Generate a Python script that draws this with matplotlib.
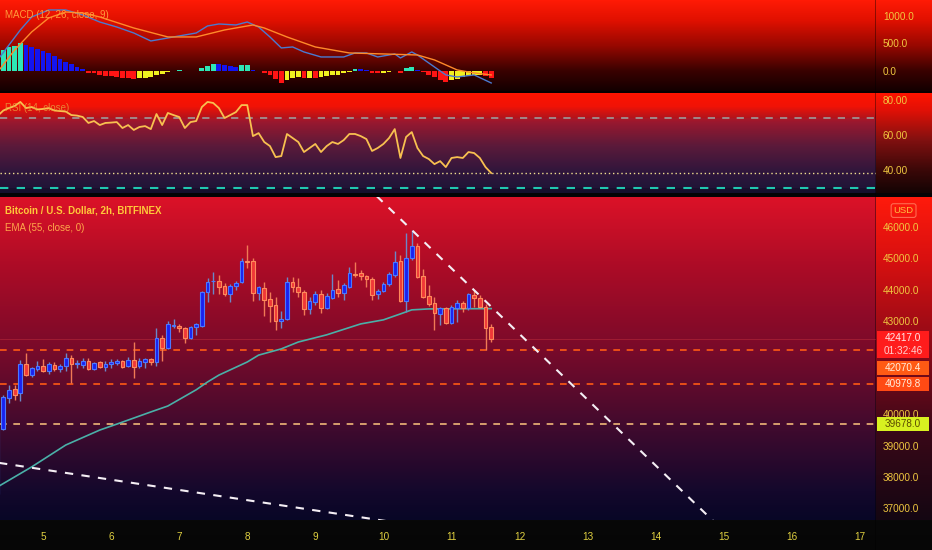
import numpy as np
import matplotlib
matplotlib.use('Agg')
import matplotlib.pyplot as plt
from matplotlib.colors import to_rgb
from matplotlib.patches import Rectangle

plt.rcParams['font.family'] = ['Liberation Sans', 'DejaVu Sans']

# Bitcoin / U.S. Dollar, 2h bars, first bar = day 4 08:00
bar_start = 4 + 8 / 24
bar_step = 2 / 24

opens = [37450, 39540, 40530, 40815, 40690, 41620, 41260, 41460, 41550, 41390,
         41580, 41460, 41550, 41810, 41620, 41580, 41710, 41460, 41680, 41520,
         41620, 41650, 41710, 41550, 41740, 41550, 41680, 41780, 41680, 42450,
         42130, 42830, 42830, 42770, 42450, 42800, 42830, 43920, 44260, 44270,
         44110, 43860, 44110, 44240, 44920, 44910, 43890, 44050, 43700, 43500,
         43000, 43050, 44240, 44080, 43920, 43380, 43600, 43860, 43410, 43730,
         44020, 43890, 44080, 44500, 44530, 44430, 44340, 43860, 43950, 44180,
         44470, 44910, 43630, 45010, 45390, 44430, 43790, 43570, 43220, 43410,
         42930, 43410, 43570, 43410, 43830, 43730, 43440, 42800]
highs = [39650, 40620, 40940, 40940, 41740, 41970, 41520, 41710, 41780, 41680,
         41680, 41620, 41970, 41900, 41740, 41810, 41810, 41680, 41710, 41710,
         41780, 41780, 41740, 41840, 42320, 41810, 41810, 41810, 42770, 42550,
         42990, 43060, 42900, 42800, 42830, 42930, 43950, 44370, 44560, 44470,
         44210, 44180, 44270, 45010, 45430, 45010, 44110, 44240, 43920, 43760,
         43310, 44400, 44400, 44370, 43990, 43760, 43950, 43990, 43890, 44500,
         44300, 44210, 44720, 44880, 44630, 44470, 44400, 44020, 44240, 44560,
         45230, 45110, 45810, 45910, 45490, 44660, 44150, 43760, 43440, 43440,
         43500, 43670, 43630, 43890, 43990, 43830, 43540, 42900]
lows = [37350, 39500, 40370, 40460, 40430, 41230, 41200, 41390, 41360, 41300,
        41390, 41360, 41390, 41000, 41490, 41490, 41420, 41420, 41490, 41390,
        41490, 41580, 41490, 41520, 41170, 41490, 41490, 41580, 41550, 41710,
        42100, 42770, 42640, 42290, 42420, 42550, 42800, 43600, 43860, 43860,
        43790, 43600, 43990, 44210, 44690, 43630, 43670, 43150, 42960, 42700,
        42770, 43020, 43920, 43760, 43180, 43220, 43500, 43250, 43380, 43700,
        43760, 43670, 44050, 44400, 44310, 44080, 43670, 43700, 43920, 44110,
        44400, 43600, 43280, 44950, 44370, 43730, 43470, 42700, 42860, 42900,
        42900, 42960, 43280, 43350, 43440, 43410, 42070, 42320]
closes = [39570, 40560, 40780, 40620, 41620, 41260, 41490, 41550, 41390, 41620,
          41460, 41550, 41810, 41620, 41630, 41710, 41460, 41650, 41520, 41620,
          41680, 41710, 41520, 41740, 41520, 41710, 41780, 41680, 42450, 42130,
          42900, 42870, 42770, 42450, 42800, 42900, 43920, 44240, 44280, 44080,
          43860, 44110, 44210, 44910, 44880, 43890, 44080, 43670, 43470, 42990,
          43050, 44240, 44080, 43920, 43380, 43630, 43860, 43410, 43790, 43990,
          43890, 44150, 44530, 44480, 44430, 44340, 43830, 43950, 44180, 44500,
          44880, 43630, 45010, 45390, 44400, 43760, 43540, 43250, 43410, 42930,
          43440, 43570, 43410, 43860, 43730, 43440, 42770, 42417]

# EMA(55) read at a few bars
ema_idx = [0, 6, 12, 18, 21, 27, 30, 35, 37, 39, 44, 46, 50, 53, 58, 64, 68, 71, 73, 76, 87]
ema_val = [37680, 38320, 39020, 39500, 39690, 40080, 40270, 40790, 41040, 41260,
           41680, 41900, 42100, 42320, 42550, 42900, 43030, 43220, 43350, 43380, 43390]

# MACD (12, 26, 9)
macd_idx = [0, 2, 4, 6, 9, 12, 15, 18, 21, 24, 27, 29, 31, 35, 37, 39, 42, 44, 46,
            48, 50, 52, 54, 57, 61, 63, 65, 67, 70, 71, 73, 74, 77, 79, 81, 84, 87]
macd_val = [195, 467, 740, 976, 1104, 1104, 1013, 885, 794, 685, 540, 576, 613, 685,
            813, 849, 831, 885, 794, 613, 413, 431, 340, 249, 249, 322, 322, 249,
            304, 231, 340, 285, 67, -78, -115, -78, -224]
sig_idx = [0, 3, 6, 9, 12, 15, 18, 24, 30, 35, 40, 45, 47, 51, 56, 62, 68, 74, 77, 81, 84, 87]
sig_val = [-24, 376, 704, 958, 1067, 1049, 976, 776, 613, 613, 740, 831, 776, 613,
           431, 322, 304, 285, 195, 13, -42, -78]
hist = [360, 376, 436, 448, 497, 460, 436, 400, 358, 315,
        267, 218, 164, 115, 61, 24, -36, -48, -79, -91,
        -103, -115, -127, -133, -145, -140, -133, -115, -85, -60,
        -20, -6, 5, -8, -10, -6, 55, 85, 127, 120,
        105, 80, 60, 100, 100, 20, -10, -40, -85, -150,
        -220, -170, -140, -120, -140, -135, -140, -120, -100, -80,
        -70, -50, -30, 30, 25, 10, -40, -40, -35, -20,
        -15, -40, 40, 70, 20, -30, -70, -110, -165, -200,
        -175, -150, -110, -100, -80, -75, -100, -130]

# RSI (14)
rsi = [70.9, 74.0, 75.4, 76.6, 78.9, 75.4, 76.0, 74.6, 74.9, 75.4,
       74.0, 73.7, 73.4, 71.4, 71.1, 70.3, 66.9, 68.0, 65.7, 66.9,
       67.1, 67.4, 64.0, 65.7, 62.9, 64.6, 65.1, 63.4, 72.0, 65.7,
       72.6, 71.4, 70.3, 64.0, 67.4, 68.0, 76.0, 78.9, 78.3, 75.4,
       69.7, 71.4, 73.1, 77.1, 77.1, 59.4, 61.1, 56.0, 53.7, 47.4,
       48.0, 60.6, 58.3, 56.0, 50.3, 52.6, 54.9, 50.3, 53.7, 56.0,
       54.9, 57.1, 60.6, 60.6, 59.4, 57.7, 50.9, 52.6, 54.9, 58.3,
       63.4, 46.9, 58.9, 61.7, 52.6, 48.0, 46.3, 43.4, 45.1, 41.7,
       46.9, 47.4, 46.9, 50.3, 49.7, 46.9, 41.7, 38.3]

# levels and drawn trend lines
levels = [42070.4, 40979.8, 39678.0]
last_price = 42417.0
countdown = '01:32:46'
trend1_t = [9.9, 14.9]
trend1_p = [46996, 36471]
trend2_t = [4.3, 10.3]
trend2_p = [38467, 36500]
day_ticks = list(range(5, 18))
price_ticks = list(range(37000, 46001, 1000))
hidden_ticks = [41000, 42000]   # covered by the price labels on the scale

W, H = 932, 550
fig = plt.figure(figsize=(W / 100, H / 100), dpi=100)
fig.patch.set_facecolor('#060606')


def gradient(stops, n):
    rows = np.arange(n)
    pos = [s[0] for s in stops]
    cols = np.array([to_rgb(s[1]) for s in stops])
    return np.stack([np.interp(rows, pos, cols[:, k]) for k in range(3)], axis=1)


chart_stops = [(0, '#ff1a05'), (20, '#e01000'), (45, '#980800'), (70, '#3a0200'), (90, '#140000'),
               (91, '#0a0000'), (92, '#0a0000'),
               (93, '#ff1400'), (106, '#f01206'), (122, '#9a1424'), (145, '#5a1630'),
               (170, '#2c1232'), (192, '#150f2c'),
               (193, '#050305'), (196, '#050305'),
               (197, '#dc1228'), (260, '#b00c26'), (350, '#780a2a'), (430, '#3e0a2e'),
               (490, '#14082c'), (519, '#080626'),
               (520, '#080808'), (549, '#060606')]
axis_stops = [(0, '#ff1a05'), (20, '#e01000'), (45, '#980800'), (70, '#3a0200'), (90, '#140000'),
              (91, '#0a0000'), (92, '#0a0000'),
              (93, '#ff1400'), (110, '#e01006'), (140, '#801010'), (170, '#3a0808'), (192, '#140404'),
              (193, '#050305'), (196, '#050305'),
              (197, '#ff1a0c'), (260, '#d81010'), (350, '#8a0a18'), (430, '#3a0818'),
              (519, '#140612'),
              (520, '#080808'), (549, '#060606')]

img = np.zeros((H, W, 3))
img[:, :876] = gradient(chart_stops, H)[:, None, :]
img[:, 876:] = gradient(axis_stops, H)[:, None, :]
img[:, 875] *= 0.6

ax_bg = fig.add_axes([0, 0, 1, 1])
ax_bg.imshow(img, extent=(0, W, H, 0), aspect='auto', interpolation='bilinear')
ax_bg.set_xlim(0, W)
ax_bg.set_ylim(H, 0)
ax_bg.axis('off')

pr = 876 / W
ax_macd = fig.add_axes([0, 1 - 91 / H, pr, 91 / H])
ax_rsi = fig.add_axes([0, 1 - 193 / H, pr, 100 / H])
ax_main = fig.add_axes([0, 30 / H, pr, 323 / H])

tick_col = '#f0c840'
for ax in (ax_macd, ax_rsi, ax_main):
    ax.set_facecolor('none')
    for s in ax.spines.values():
        s.set_visible(False)
    ax.set_xlim(4.368, 17.236)
    ax.yaxis.tick_right()
    ax.tick_params(axis='y', length=0, pad=5, labelsize=7.2, labelcolor=tick_col)
    ax.tick_params(axis='x', length=0)

t = bar_start + np.arange(len(closes)) * bar_step
step = bar_step

# ---- MACD pane
hcols = []
for i, h in enumerate(hist):
    prev = hist[i - 1] if i > 0 else h
    if h >= 0:
        hcols.append('#2ee6b6' if h >= prev else '#1414f0')
    else:
        hcols.append('#f0f020' if h > prev else '#ff1414')
ax_macd.bar(t, hist, width=step * 0.85, color=hcols, zorder=2)
ax_macd.plot(t[macd_idx], macd_val, color='#4a7ad0', lw=1, zorder=3)
ax_macd.plot(t[sig_idx], sig_val, color='#ff8a2a', lw=1, zorder=3)
ax_macd.set_ylim(-370, 1285)
ax_macd.set_yticks([0, 500, 1000])
ax_macd.set_yticklabels([f'{v:.1f}' for v in [0, 500, 1000]])
ax_macd.set_xticks([])
ax_macd.text(0.006, 0.835, 'MACD (12, 26, close, 9)', transform=ax_macd.transAxes,
             color='#ff9a3a', fontsize=7, va='center')

# ---- RSI pane
ax_rsi.axhspan(30, 70, color='#7e57c2', alpha=0.07, lw=0)
ax_rsi.axhline(70, color='#a09090', lw=1.3, ls=(0, (4, 4)))
ax_rsi.axhline(30, color='#20c8b0', lw=1.5, ls=(0, (4, 4)))
ax_rsi.axhline(rsi[-1], color='#f0e090', lw=1, ls=(0, (1, 2)))
ax_rsi.plot(t, rsi, color='#f8c050', lw=1.3, zorder=3)
ax_rsi.set_ylim(26.9, 84)
ax_rsi.set_yticks([40, 60, 80])
ax_rsi.set_yticklabels([f'{v:.2f}' for v in [40, 60, 80]])
ax_rsi.set_xticks([])
ax_rsi.text(0.006, 0.85, 'RSI (14, close)', transform=ax_rsi.transAxes,
            color='#e8a040', alpha=0.8, fontsize=7, va='center')

# ---- price pane
o = np.array(opens)
c = np.array(closes)
up = c >= o
body_col = np.where(up, '#1a22f0', '#f03838')
edge_col = np.where(up, '#4a78ff', '#ff8a5a')
wick_col = np.where(up, '#6a88c8', '#f07a55')
bottoms = np.minimum(o, c)
heights = np.maximum(np.abs(c - o), 25)

lvl_cols = ['#ff5a14', '#ff5a14', '#f0b878']
for lv, lc in zip(levels, lvl_cols):
    ax_main.axhline(lv, color=lc, lw=1.2, ls=(0, (4, 4)), zorder=1)
ax_main.axhline(last_price, color='#ff5050', lw=0.6, alpha=0.3, zorder=1)

ax_main.plot(t[ema_idx], ema_val, color='#4ab0a8', lw=1.2, zorder=2)
ax_main.vlines(t, lows, highs, colors=wick_col, lw=1, zorder=3)
ax_main.bar(t, heights, bottom=bottoms, width=step * 0.65, color=body_col,
            edgecolor=edge_col, linewidth=0.8, zorder=4)
ax_main.plot(trend1_t, trend1_p, color='#f4eef4', lw=1.5, ls=(0, (4, 4)), zorder=5)
ax_main.plot(trend2_t, trend2_p, color='#f4eef4', lw=1.5, ls=(0, (4, 4)), zorder=5)

ax_main.set_ylim(36619, 46965)
ax_main.set_yticks(price_ticks)
ax_main.set_yticklabels(['' if v in hidden_ticks else f'{v:.1f}' for v in price_ticks])
ax_main.set_xticks(day_ticks)
ax_main.set_xticklabels([str(d) for d in day_ticks])
ax_main.tick_params(axis='x', pad=9, labelsize=7.2, labelcolor='#e0d040')

ax_main.text(0.006, 0.957, 'Bitcoin / U.S. Dollar, 2h, BITFINEX', transform=ax_main.transAxes,
             color='#ffc83a', fontsize=7, fontweight='bold', va='center')
ax_main.text(0.006, 0.904, 'EMA (55, close, 0)', transform=ax_main.transAxes,
             color='#ffa84a', fontsize=7, va='center')
ax_main.text(1.02, 0.958, 'USD', transform=ax_main.transAxes, color='#ffc040', fontsize=6.8,
             va='center', ha='left',
             bbox=dict(boxstyle='round,pad=0.25', fc='none', ec='#ff6a50', lw=0.8))

# ---- price labels on the scale (pixel overlay)
ax_top = fig.add_axes([0, 0, 1, 1], zorder=5)
ax_top.set_facecolor('none')
ax_top.set_xlim(0, W)
ax_top.set_ylim(H, 0)
ax_top.axis('off')


def ypix(price):
    return H - ax_main.transData.transform((10, price))[1]


yl = ypix(last_price)
ax_top.add_patch(Rectangle((877, yl - 8), 52, 27, fc='#ff1c1c', ec='none'))
ax_top.text(903, yl - 1, f'{last_price:.1f}', color='#ffe8e8', fontsize=7.2, ha='center', va='center')
ax_top.text(903, yl + 12, countdown, color='#ffd0d0', fontsize=7.2, ha='center', va='center')

label_style = [('#ff5a14', '#ffeedd', 18), ('#ff4a14', '#ffeedd', 0), ('#d8f020', '#5a4a00', 0)]
for lv, (fc, tc, dy) in zip(levels, label_style):
    yp = ypix(lv) + dy
    ax_top.add_patch(Rectangle((877, yp - 7), 52, 14, fc=fc, ec='none'))
    ax_top.text(903, yp, f'{lv:.1f}', color=tc, fontsize=7.2, ha='center', va='center')

fig.savefig('out.png', dpi=100, facecolor=fig.get_facecolor())
